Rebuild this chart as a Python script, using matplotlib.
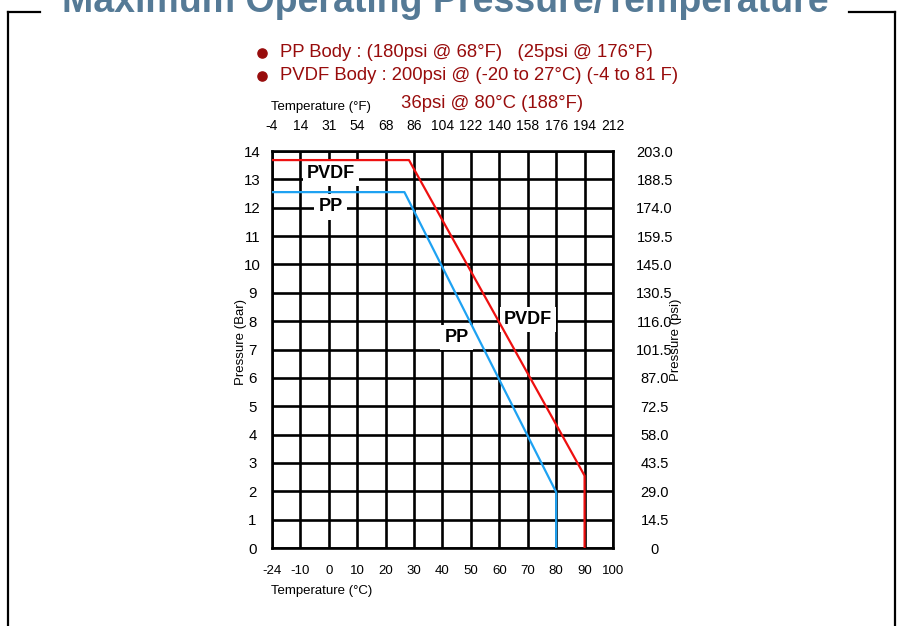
import numpy as np
import matplotlib
matplotlib.use("Agg")
import matplotlib.pyplot as plt
from matplotlib.lines import Line2D

plt.rcParams['font.family'] = ['Liberation Sans', 'DejaVu Sans']

# ---- data ----
temp_c_ticks = [-24, -10, 0, 10, 20, 30, 40, 50, 60, 70, 80, 90, 100]
temp_f_labels = ['-4', '14', '31', '54', '68', '86', '104', '122', '140', '158', '176', '194', '212']
bar_ticks = list(range(0, 15))
psi_labels = ['0', '14.5', '29.0', '43.5', '58.0', '72.5', '87.0', '101.5', '116.0',
              '130.5', '145.0', '159.5', '174.0', '188.5', '203.0']

pvdf_temp = [-24, 28.2, 90, 90]
pvdf_bar = [13.68, 13.68, 2.55, 0]
pp_temp = [-24, 26.6, 80, 80]
pp_bar = [12.55, 12.55, 1.97, 0]

legend_lines = ['PP Body : (180psi @ 68°F)   (25psi @ 176°F)',
                'PVDF Body : 200psi @ (-20 to 27°C) (-4 to 81 F)']
legend_extra = '36psi @ 80°C (188°F)'

# ---- figure ----
W, H = 903, 626
fig = plt.figure(figsize=(W / 100, H / 100), dpi=100)
fig.patch.set_facecolor('white')

def fx(px):
    return px / W

def fy(py):
    return 1 - py / H

L, R, T, B = 272, 613, 151, 548
ax = fig.add_axes([fx(L), fy(B), fx(R) - fx(L), fy(T) - fy(B)])

idx = np.arange(len(temp_c_ticks), dtype=float)
tc = np.array(temp_c_ticks, dtype=float)

def fwd(x):
    return np.interp(x, tc, idx)

def inv(i):
    return np.interp(i, idx, tc)

ax.set_xscale('function', functions=(fwd, inv))
ax.set_xlim(-24, 100)
ax.set_ylim(0, 14)
ax.set_xticks(temp_c_ticks)
ax.set_xticklabels([str(t) for t in temp_c_ticks])
ax.set_yticks(bar_ticks)
ax.set_yticklabels([str(b) for b in bar_ticks])
ax.minorticks_off()
ax.grid(True, color='black', lw=1.9)
ax.set_axisbelow(True)
for s in ax.spines.values():
    s.set_linewidth(1.9)
ax.tick_params(axis='x', length=0, pad=12, labelsize=9.5)
ax.tick_params(axis='y', length=0, pad=14, labelsize=10.8)
for lab in ax.get_yticklabels():
    lab.set_horizontalalignment('center')

ax.plot(pvdf_temp, pvdf_bar, color='#ee1010', lw=1.6, zorder=3)
ax.plot(pp_temp, pp_bar, color='#1ea2f2', lw=1.6, zorder=3)

bb = dict(facecolor='white', edgecolor='none', pad=3.0)
lab_kw = dict(fontsize=13, fontweight='bold', ha='center', va='center', bbox=bb, zorder=2)
ax.text(0.8, 13.22, 'PVDF', **lab_kw)
ax.text(0.6, 12.03, 'PP', **lab_kw)
ax.text(45, 7.43, 'PP', **lab_kw)
ax.text(70, 8.05, 'PVDF', **lab_kw)

# top axis (°F)
axt = ax.twiny()
axt.set_xscale('function', functions=(fwd, inv))
axt.set_xlim(-24, 100)
axt.set_xticks(temp_c_ticks)
axt.set_xticklabels(temp_f_labels)
axt.minorticks_off()
axt.tick_params(axis='x', length=0, pad=13, labelsize=10)
for s in axt.spines.values():
    s.set_visible(False)

# right axis (psi)
axr = ax.twinx()
axr.set_ylim(0, 14)
axr.set_yticks(bar_ticks)
axr.set_yticklabels(psi_labels)
axr.tick_params(axis='y', length=0, pad=30, labelsize=10.5)
for lab in axr.get_yticklabels():
    lab.set_horizontalalignment('center')
for s in axr.spines.values():
    s.set_visible(False)

# axis titles
fig.text(fx(241), fy(342), 'Pressure (Bar)', rotation=90, ha='center', va='center', fontsize=9.5)
fig.text(fx(676), fy(340), 'Pressure (psi)', rotation=90, ha='center', va='center', fontsize=9.5)
fig.text(fx(271), fy(591), 'Temperature (°C)', ha='left', va='center', fontsize=9.5)
fig.text(fx(271), fy(107), 'Temperature (°F)', ha='left', va='center', fontsize=9.5)

# legend block
red_dark = '#980c0c'
for i, txt in enumerate(legend_lines):
    y = 52.5 + i * 23.5
    fig.add_artist(Line2D([fx(262)], [fy(y)], marker='o', markersize=6.6, color=red_dark,
                          linestyle='none', transform=fig.transFigure))
    fig.text(fx(280), fy(y), txt, ha='left', va='center', fontsize=13.3, color=red_dark)
fig.text(fx(401), fy(103), legend_extra, ha='left', va='center', fontsize=13.3, color=red_dark)

# frame and title
frame_kw = dict(color='black', lw=1.6, transform=fig.transFigure)
fig.add_artist(Line2D([fx(8), fx(40)], [fy(12), fy(12)], **frame_kw))
fig.add_artist(Line2D([fx(849), fx(895)], [fy(12), fy(12)], **frame_kw))
fig.add_artist(Line2D([fx(8), fx(8)], [fy(12), fy(630)], **frame_kw))
fig.add_artist(Line2D([fx(895), fx(895)], [fy(12), fy(630)], **frame_kw))
fig.text(fx(445), fy(12), 'Maximum Operating Pressure/Temperature', ha='center', va='baseline',
         fontsize=27, fontweight='bold', color='#557a96')

fig.savefig('out.png', dpi=100)
